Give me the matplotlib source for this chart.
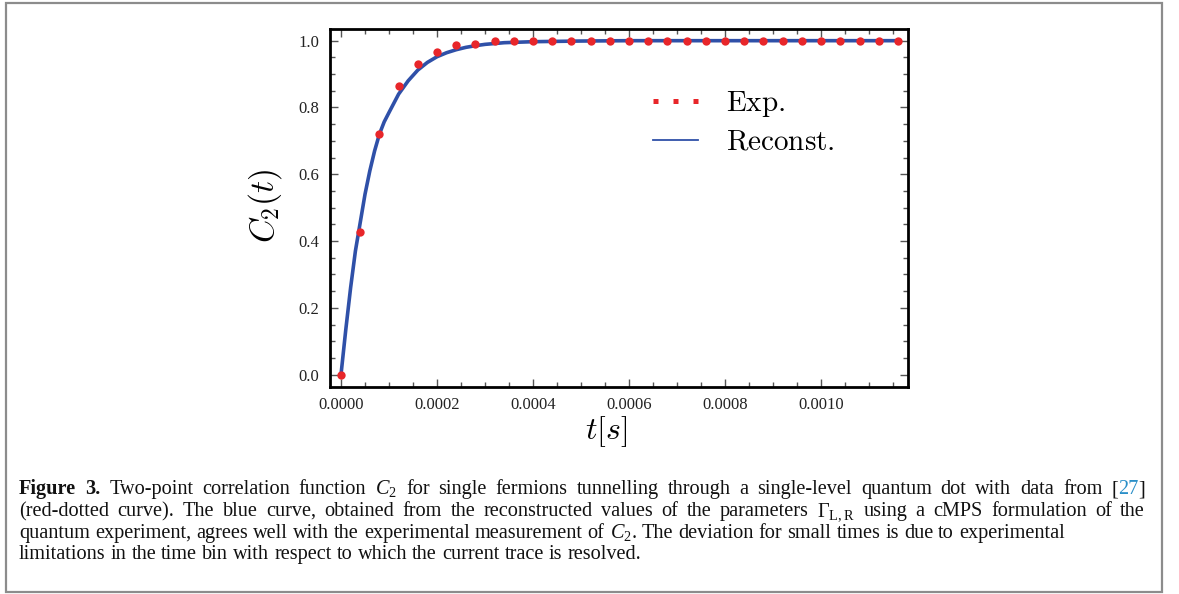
import matplotlib
matplotlib.use('Agg')
import matplotlib.pyplot as plt
from matplotlib.lines import Line2D
from matplotlib.patches import Rectangle
from matplotlib.ticker import MultipleLocator, FormatStrFormatter

plt.rcParams['mathtext.fontset'] = 'custom'
plt.rcParams['mathtext.rm'] = 'Liberation Serif'
plt.rcParams['mathtext.it'] = 'Liberation Serif:italic'
plt.rcParams['mathtext.bf'] = 'Liberation Serif:bold'

# experimental points (red dots)
t_exp = [0.0, 0.00004, 0.00008, 0.00012, 0.00016, 0.00020, 0.00024, 0.00028,
         0.00032, 0.00036, 0.00040, 0.00044, 0.00048, 0.00052, 0.00056, 0.00060,
         0.00064, 0.00068, 0.00072, 0.00076, 0.00080, 0.00084, 0.00088, 0.00092,
         0.00096, 0.00100, 0.00104, 0.00108, 0.00112, 0.00116]
c2_exp = [0.0, 0.428, 0.722, 0.864, 0.929, 0.965, 0.986, 0.989,
          1.0, 0.999, 0.999, 1.0, 1.0, 1.0, 1.0, 1.0,
          1.0, 1.0, 1.0, 1.0, 1.0, 1.0, 1.0, 1.0,
          1.0, 1.0, 1.0, 1.0, 1.0, 1.0]

# reconstructed curve (blue)
t_rec = [0.0, 0.00001, 0.00002, 0.00003, 0.00004, 0.00005, 0.00006, 0.00007,
         0.00008, 0.00009, 0.00010, 0.00012, 0.00014, 0.00016, 0.00018, 0.00020,
         0.00022, 0.00024, 0.00026, 0.00028, 0.00030, 0.00034, 0.00040, 0.00050,
         0.00060, 0.00116]
c2_rec = [0.0, 0.135, 0.26, 0.37, 0.455, 0.54, 0.61, 0.67,
          0.72, 0.757, 0.785, 0.84, 0.88, 0.912, 0.935, 0.952,
          0.964, 0.973, 0.98, 0.985, 0.989, 0.994, 0.997, 0.999,
          1.0, 1.0]

RED = '#e8262a'
BLUE = '#2f50a8'
W, H = 1179, 594

fig = plt.figure(figsize=(W / 100, H / 100), dpi=100)
ax = fig.add_axes([330 / W, 1 - 387 / H, (908 - 330) / W, (387 - 29) / H])

ax.plot(t_rec, c2_rec, color=BLUE, lw=2.6, solid_capstyle='round', zorder=2)
ax.plot(t_exp, c2_exp, 'o', color=RED, ms=6, mec='none', zorder=3)

ax.set_xlim(-0.0000229, 0.001181)
ax.set_ylim(-0.037, 1.035)
ax.xaxis.set_major_locator(MultipleLocator(0.0002))
ax.xaxis.set_minor_locator(MultipleLocator(0.00005))
ax.yaxis.set_major_locator(MultipleLocator(0.2))
ax.yaxis.set_minor_locator(MultipleLocator(0.05))
ax.xaxis.set_major_formatter(FormatStrFormatter('%.4f'))
ax.yaxis.set_major_formatter(FormatStrFormatter('%.1f'))
ax.tick_params(which='both', direction='in', top=True, right=True,
               color='#555555', width=1, labelcolor='#222222', labelsize=12)
ax.tick_params(which='major', length=6)
ax.tick_params(which='minor', length=3.5)
ax.tick_params(axis='x', pad=7)
ax.tick_params(axis='y', pad=8)
for lab in ax.get_xticklabels() + ax.get_yticklabels():
    lab.set_fontfamily('Liberation Serif')
for sp in ax.spines.values():
    sp.set_linewidth(2)

ax.set_xlabel(r'$t[s]$', fontsize=23, math_fontfamily='cm')
ax.set_ylabel(r'$C_2(t)$', fontsize=24, math_fontfamily='cm')
ax.xaxis.set_label_coords((606 - 330) / 578, (387 - 414) / 358)
ax.yaxis.set_label_coords((284 - 330) / 578, (387 - 206) / 358)

handles = [Line2D([], [], color=RED, lw=3.6, ls=(0, (1, 3)), dash_capstyle='butt'),
           Line2D([], [], color=BLUE, lw=1.3)]
ax.legend(handles, [r'$\mathrm{Exp.}$', r'$\mathrm{Reconst.}$'],
          prop={'size': 21, 'math_fontfamily': 'cm'}, frameon=False,
          loc='upper left', bbox_to_anchor=(653 / W, 1 - 89 / H),
          bbox_transform=fig.transFigure, borderpad=0, borderaxespad=0,
          handlelength=1.55, handletextpad=0.95, labelspacing=0.3)

# caption box
fig.patches.append(Rectangle((6 / W, 1 - 592 / H), (1162 - 6) / W, (592 - 3) / H,
                             transform=fig.transFigure, fill=False,
                             edgecolor='#8c8c8c', lw=1.6))

# caption text: each word is a list of (string, style) pieces
FS = 14.6
CAP = dict(family='Liberation Serif', size=FS, color='#111111')
BOLD = dict(CAP, weight='bold')
LINK = dict(CAP, color='#2a8fc8')


def words(s, st=CAP):
    return [[(w, st)] for w in s.split()]


lines = [
    (words('Figure 3.', BOLD) + words('Two-point correlation function') + [[(r'$C_2$', CAP)]]
     + words('for single fermions tunnelling through a single-level quantum dot with data from')
     + [[('[', CAP), ('27', LINK), (']', CAP)]], True),
    (words('(red-dotted curve). The blue curve, obtained from the reconstructed values of the parameters')
     + [[(r'$\Gamma_{\mathrm{L,R}}$', CAP)]]
     + words('using a cMPS formulation of the'), True),
    (words('quantum experiment, agrees well with the experimental measurement of')
     + [[(r'$C_2$', CAP), ('.', CAP)]]
     + words('The deviation for small times is due to experimental'), False),
    (words('limitations in the time bin with respect to which the current trace is resolved.'), False),
]

r = fig.canvas.get_renderer()
x_left, x_right = 19, 1145
baselines = [494, 516, 538, 559]
for (ws, justify), yb in zip(lines, baselines):
    items = []
    for w in ws:
        parts = []
        for s, st in w:
            t = fig.text(0, 1 - yb / H, s, va='baseline', ha='left', **st)
            parts.append((t, t.get_window_extent(r).width))
        items.append(parts)
    widths = [sum(p[1] for p in parts) for parts in items]
    gap = FS * 100 / 72 * 0.25
    if justify:
        gap = (x_right - x_left - sum(widths)) / (len(items) - 1)
    x = x_left
    for parts, wd in zip(items, widths):
        xx = x
        for t, pw in parts:
            t.set_x(xx / W)
            xx += pw
        x += wd + gap

fig.savefig('out.png', dpi=100)
